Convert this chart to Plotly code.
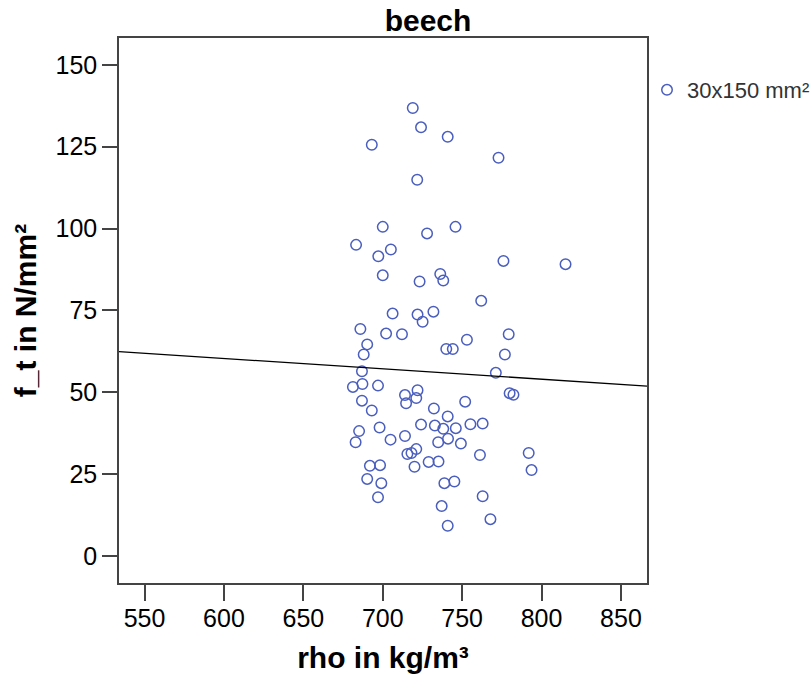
import plotly.graph_objects as go

rho = [718.9, 724.1, 740.9, 693.1, 772.9, 721.7, 700.0, 745.8, 727.9, 683.2,
       705.1, 697.2, 776.0, 815.1, 700.0, 736.2, 738.1, 723.2, 762.0, 706.2,
       721.9, 731.9, 725.1, 685.9, 702.1, 712.1, 779.3, 753.0, 690.2, 740.0,
       744.1, 688.0, 776.9, 686.9, 771.2, 681.2, 687.2, 697.0, 714.0, 721.9,
       779.9, 782.3, 686.9, 714.7, 721.1, 751.9, 693.1, 732.2, 740.9, 724.1,
       732.8, 738.1, 746.0, 755.2, 762.9, 698.0, 685.1, 682.9, 704.9, 714.0,
       734.9, 741.1, 749.2, 721.1, 715.5, 718.1, 761.2, 791.9, 728.9, 735.1,
       691.9, 698.3, 720.0, 793.7, 690.2, 699.1, 738.8, 745.1, 697.0, 762.9,
       737.1, 767.8, 740.9]
f_t = [136.8, 130.9, 128.0, 125.6, 121.6, 114.9, 100.5, 100.5, 98.5, 95.0,
       93.6, 91.5, 90.1, 89.1, 85.7, 86.1, 84.1, 83.8, 77.9, 74.0,
       73.7, 74.6, 71.5, 69.3, 67.9, 67.7, 67.7, 66.0, 64.6, 63.2,
       63.2, 61.5, 61.5, 56.4, 55.9, 51.6, 52.5, 52.0, 49.1, 50.6,
       49.7, 49.2, 47.4, 46.6, 48.2, 47.1, 44.4, 45.0, 42.6, 40.1,
       39.8, 38.8, 39.0, 40.2, 40.4, 39.2, 38.1, 34.7, 35.5, 36.6,
       34.7, 35.8, 34.3, 32.6, 31.1, 31.4, 30.8, 31.4, 28.7, 28.8,
       27.5, 27.7, 27.2, 26.2, 23.5, 22.2, 22.2, 22.7, 17.9, 18.2,
       15.2, 11.2, 9.2]

# fitted line
fit_intercept = 79.32
fit_slope = -0.0317

x_range = [533.9, 866.4]
y_range = [-8.3, 158.2]
x_ticks = [550, 600, 650, 700, 750, 800, 850]
y_ticks = [0, 25, 50, 75, 100, 125, 150]

series_name = "30x150 mm²"
title = "beech"
x_title = "rho in kg/m³"
y_title = "f_t in N/mm²"

marker_color = "rgb(74,94,190)"
axis_color = "#444444"
FONT = "Liberation Sans, Arial, sans-serif"

fig = go.Figure()
fig.add_trace(go.Scatter(
    x=rho, y=f_t, mode="markers", name=series_name,
    marker=dict(symbol="circle-open", size=10.5, color=marker_color,
                line=dict(width=1.5, color=marker_color)),
))
fig.add_trace(go.Scatter(
    x=x_range, y=[fit_intercept + fit_slope * v for v in x_range],
    mode="lines", line=dict(color="black", width=1.3),
    showlegend=False, hoverinfo="skip",
))

fig.update_layout(
    width=812, height=681,
    paper_bgcolor="white", plot_bgcolor="white",
    margin=dict(l=119, r=165, t=38, b=98, autoexpand=False),
    font=dict(family=FONT, color="black"),
    title=dict(text="<b>" + title + "</b>", x=(428 - 119) / 528, xref="paper",
               xanchor="center", y=1 - 20 / 681, yanchor="middle",
               font=dict(size=30, family=FONT, color="black")),
    showlegend=True,
    legend=dict(x=1.0, xanchor="left", y=0.943, yanchor="top",
                font=dict(size=22, family=FONT, color="#333333"),
                bgcolor="rgba(0,0,0,0)", itemwidth=30),
)
fig.update_xaxes(
    range=x_range, tickvals=x_ticks, ticktext=[str(v) for v in x_ticks],
    showgrid=False, zeroline=False, showline=True, mirror=True,
    linecolor=axis_color, linewidth=1.5,
    ticks="outside", ticklen=16, tickwidth=1.5, tickcolor=axis_color,
    ticklabelstandoff=-4,
    tickfont=dict(size=25, family=FONT, color="black"),
    title=dict(text="<b>" + x_title + "</b>", font=dict(size=30, family=FONT, color="black"),
               standoff=16),
)
fig.update_yaxes(
    range=y_range, tickvals=y_ticks, ticktext=[str(v) for v in y_ticks],
    showgrid=False, zeroline=False, showline=True, mirror=True,
    linecolor=axis_color, linewidth=1.5,
    ticks="outside", ticklen=15, tickwidth=1.5, tickcolor=axis_color,
    tickfont=dict(size=25, family=FONT, color="black"),
    title=dict(text="<b>" + y_title + "</b>", font=dict(size=30, family=FONT, color="black"),
               standoff=10),
)

fig.write_html("out.html")
